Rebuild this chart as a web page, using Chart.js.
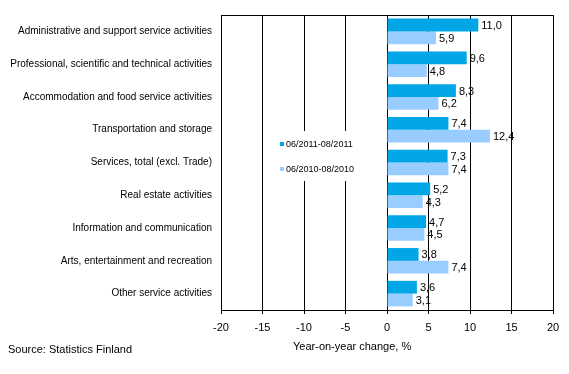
<!DOCTYPE html>
<html>
<head>
<meta charset="utf-8">
<script src="https://cdn.jsdelivr.net/npm/chart.js@4.4.0/dist/chart.umd.min.js"></script>
<style>
  body { margin: 0; background: #fff; }
  #wrap { width: 569px; height: 374px; }
</style>
</head>
<body>
<div id="wrap"><canvas id="chart" width="569" height="374"></canvas></div>
<script>
const categories = [
    'Administrative and support service activities',
    'Professional, scientific and technical activities',
    'Accommodation and food service activities',
    'Transportation and storage',
    'Services, total (excl. Trade)',
    'Real estate activities',
    'Information and communication',
    'Arts, entertainment and recreation',
    'Other service activities'
];
const series2011 = [11.0, 9.6, 8.3, 7.4, 7.3, 5.2, 4.7, 3.8, 3.6];
const series2010 = [5.9, 4.8, 6.2, 12.4, 7.4, 4.3, 4.5, 7.4, 3.1];
const seriesNames = ['06/2011-08/2011', '06/2010-08/2010'];
const xTicks = [-20, -15, -10, -5, 0, 5, 10, 15, 20];

const darkBlue = '#00A6E6';
const lightBlue = '#99CCFF';
const font = '"Liberation Sans", Arial, sans-serif';

// kehys, selite ja arvot
const extras = {
    id: 'extras',
    beforeDatasetsDraw(chart) {
        const ctx = chart.ctx;
        const a = chart.chartArea;
        ctx.save();
        // selitteen valkoinen tausta
        ctx.fillStyle = '#fff';
        ctx.fillRect(268, 131, 112, 50);
        ctx.strokeStyle = '#000';
        ctx.lineWidth = 1;
        ctx.strokeRect(Math.round(a.left) + 0.5, Math.round(a.top) + 0.5,
            Math.round(a.right - a.left), Math.round(a.bottom - a.top));
        ctx.restore();
    },
    afterDraw(chart) {
        const ctx = chart.ctx;
        ctx.save();
        ctx.textBaseline = 'middle';
        ctx.fillStyle = '#000';

        // arvot pylväiden perään
        ctx.font = '11px ' + font;
        ctx.textAlign = 'left';
        chart.data.datasets.forEach((ds, i) => {
            chart.getDatasetMeta(i).data.forEach((bar, j) => {
                ctx.fillText(ds.data[j].toFixed(1).replace('.', ','), bar.x + 3, bar.y + 1);
            });
        });

        // selite
        ctx.font = '9px ' + font;
        const legendY = [144, 169];
        [darkBlue, lightBlue].forEach((c, i) => {
            ctx.fillStyle = c;
            ctx.fillRect(280, legendY[i] - 2, 4, 4);
            ctx.fillStyle = '#000';
            ctx.fillText(seriesNames[i], 286, legendY[i] + 1);
        });

        ctx.font = '11px ' + font;
        ctx.fillText('Year-on-year change, %', 293, 347);
        ctx.fillText('Source: Statistics Finland', 8, 350);
        ctx.restore();
    }
};

new Chart(document.getElementById('chart'), {
    type: 'bar',
    data: {
        labels: categories,
        datasets: [
            { label: seriesNames[0], data: series2011, backgroundColor: darkBlue },
            { label: seriesNames[1], data: series2010, backgroundColor: lightBlue }
        ]
    },
    options: {
        indexAxis: 'y',
        responsive: false,
        animation: false,
        categoryPercentage: 0.78,
        barPercentage: 1,
        layout: { padding: { top: 15, right: 16, left: 0, bottom: 0 } },
        plugins: { legend: { display: false }, tooltip: { enabled: false } },
        scales: {
            x: {
                min: -20,
                max: 20,
                afterBuildTicks: (scale) => { scale.ticks = xTicks.map(v => ({ value: v })); },
                afterFit: (scale) => { scale.height = 64; },
                grid: { color: '#000', lineWidth: 1, tickLength: 4 },
                border: { color: '#000' },
                ticks: {
                    color: '#000',
                    padding: 7,
                    font: { family: font, size: 11 }
                }
            },
            y: {
                afterFit: (scale) => { scale.width = 221; },
                grid: { display: false, drawTicks: false },
                border: { color: '#000' },
                ticks: {
                    color: '#000',
                    padding: 9,
                    font: { family: font, size: 10 }
                }
            }
        }
    },
    plugins: [extras]
});
</script>
</body>
</html>
